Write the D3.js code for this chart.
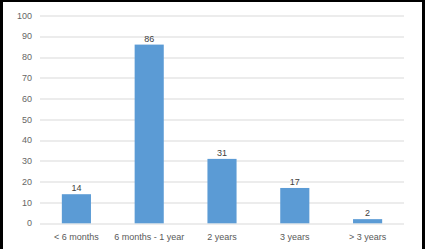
<!DOCTYPE html>
<html>
<head>
<meta charset="utf-8">
<script src="https://cdn.jsdelivr.net/npm/d3@7"></script>
<style>
  body { margin: 0; background: #000; }
  svg { display: block; font-family: "Liberation Sans", Arial, sans-serif; }
</style>
</head>
<body>
<svg id="chart" width="425" height="249"></svg>
<script>
// Chart data
var categories = ["< 6 months", "6 months - 1 year", "2 years", "3 years", "> 3 years"];
var counts = [14, 86, 31, 17, 2];
var yTicks = [0, 10, 20, 30, 40, 50, 60, 70, 80, 90, 100];

var svg = d3.select("#chart");

// Black frame around the white chart area (no bottom edge)
svg.append("rect").attr("width", 425).attr("height", 249).attr("fill", "#000");
svg.append("rect").attr("x", 3).attr("y", 2).attr("width", 419).attr("height", 247).attr("fill", "#fff");

var margin = {top: 15.5, left: 40, right: 21, bottom: 25.7};
var width = 425 - margin.left - margin.right;
var height = 249 - margin.top - margin.bottom;

var g = svg.append("g").attr("transform", "translate(" + [margin.left, margin.top] + ")");

var xScale = d3.scaleBand().domain(categories).range([0, width]).paddingInner(0.6).paddingOuter(0.3);
var yScale = d3.scaleLinear().domain([0, 100]).range([height, 0]);

// Gridlines
g.selectAll(".grid")
    .data(yTicks)
    .enter()
    .append("line")
    .attr("class", "grid")
    .attr("x1", 0)
    .attr("x2", width)
    .attr("y1", function(d) { return Math.round(yScale(d)) + 0.5; })
    .attr("y2", function(d) { return Math.round(yScale(d)) + 0.5; })
    .attr("stroke", "#d9d9d9")
    .attr("stroke-width", 1);

// Y tick labels
g.selectAll(".ylab")
    .data(yTicks)
    .enter()
    .append("text")
    .attr("class", "ylab")
    .attr("x", -8)
    .attr("y", function(d) { return yScale(d); })
    .attr("dy", "0.35em")
    .attr("text-anchor", "end")
    .attr("font-size", 9)
    .attr("fill", "#666666")
    .text(function(d) { return d; });

// Bars
g.selectAll(".bar")
    .data(counts)
    .enter()
    .append("rect")
    .attr("class", "bar")
    .attr("x", function(d, i) { return xScale(categories[i]); })
    .attr("y", function(d) { return yScale(d); })
    .attr("width", xScale.bandwidth())
    .attr("height", function(d) { return height - yScale(d); })
    .attr("fill", "#5b9bd5");

// Value labels
g.selectAll(".val")
    .data(counts)
    .enter()
    .append("text")
    .attr("class", "val")
    .attr("x", function(d, i) { return xScale(categories[i]) + xScale.bandwidth() / 2; })
    .attr("y", function(d) { return yScale(d) - 3; })
    .attr("text-anchor", "middle")
    .attr("font-size", 9)
    .attr("fill", "#404040")
    .text(function(d) { return d; });

// X category labels
g.selectAll(".xlab")
    .data(categories)
    .enter()
    .append("text")
    .attr("class", "xlab")
    .attr("x", function(d) { return xScale(d) + xScale.bandwidth() / 2; })
    .attr("y", height + 14)
    .attr("dy", "0.35em")
    .attr("text-anchor", "middle")
    .attr("font-size", 9)
    .attr("fill", "#595959")
    .text(function(d) { return d; });
</script>
</body>
</html>
